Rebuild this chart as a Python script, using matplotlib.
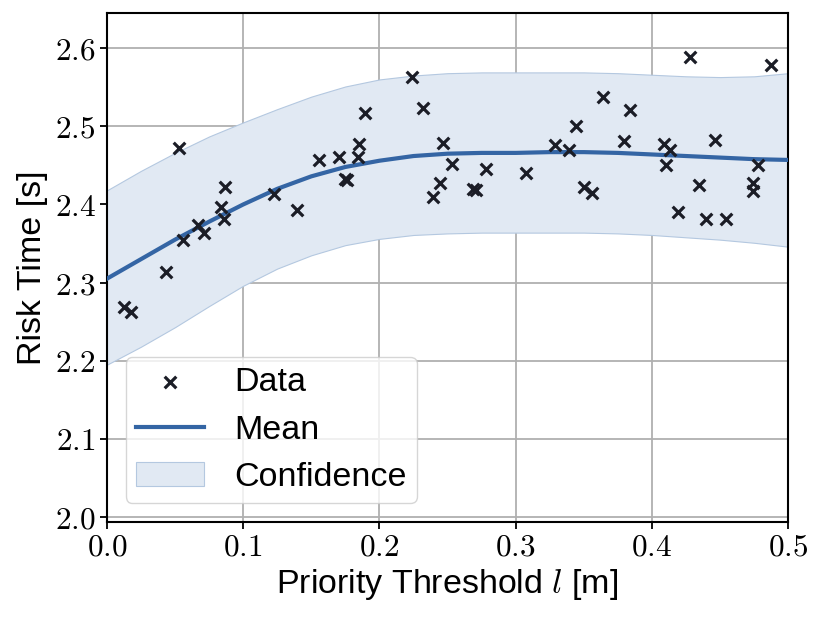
import numpy as np
import matplotlib
matplotlib.use("Agg")
import matplotlib.pyplot as plt

plt.rcParams["mathtext.fontset"] = "cm"
plt.rcParams["font.family"] = ["Liberation Sans", "DejaVu Sans"]

# observed samples
data_x = [0.0129, 0.0178, 0.0434, 0.0526, 0.0556, 0.0670, 0.0714, 0.0836, 0.0860, 0.0868,
          0.1226, 0.1396, 0.1555, 0.1706, 0.1750, 0.1760, 0.1840, 0.1847, 0.1896, 0.2242,
          0.2317, 0.2395, 0.2444, 0.2468, 0.2529, 0.2685, 0.2705, 0.2780, 0.3077, 0.3290,
          0.3390, 0.3443, 0.3504, 0.3558, 0.3638, 0.3796, 0.3838, 0.4089, 0.4103, 0.4130,
          0.4191, 0.4279, 0.4344, 0.4393, 0.4459, 0.4540, 0.4739, 0.4739, 0.4776, 0.4876]
data_y = [2.269, 2.263, 2.314, 2.472, 2.354, 2.374, 2.364, 2.397, 2.382, 2.422,
          2.413, 2.393, 2.457, 2.461, 2.433, 2.431, 2.461, 2.478, 2.517, 2.563,
          2.524, 2.409, 2.428, 2.479, 2.452, 2.420, 2.418, 2.445, 2.440, 2.476,
          2.470, 2.500, 2.423, 2.415, 2.538, 2.481, 2.521, 2.477, 2.450, 2.470,
          2.390, 2.589, 2.425, 2.381, 2.483, 2.381, 2.427, 2.417, 2.451, 2.579]

# predicted mean and confidence band
grid_x = [0.0, 0.025, 0.05, 0.075, 0.1, 0.125, 0.15, 0.175, 0.2, 0.225, 0.25,
          0.275, 0.3, 0.325, 0.35, 0.375, 0.4, 0.425, 0.45, 0.475, 0.5]
mean_y = [2.305, 2.330, 2.355, 2.378, 2.400, 2.420, 2.436, 2.448, 2.456, 2.462, 2.465,
          2.466, 2.466, 2.467, 2.467, 2.466, 2.464, 2.462, 2.460, 2.458, 2.457]
upper_y = [2.418, 2.443, 2.466, 2.487, 2.505, 2.522, 2.538, 2.551, 2.560, 2.565, 2.568,
           2.569, 2.569, 2.569, 2.569, 2.568, 2.566, 2.564, 2.563, 2.564, 2.568]
lower_y = [2.195, 2.218, 2.243, 2.270, 2.296, 2.318, 2.335, 2.348, 2.356, 2.361, 2.363,
           2.364, 2.364, 2.364, 2.364, 2.363, 2.361, 2.358, 2.355, 2.351, 2.346]

xticks = [0.0, 0.1, 0.2, 0.3, 0.4, 0.5]
yticks = [2.0, 2.1, 2.2, 2.3, 2.4, 2.5, 2.6]

fig = plt.figure(figsize=(8.22, 6.19), dpi=100)
ax = fig.add_axes([0.130, 0.157, 0.829, 0.822])

line_col = "#3465a4"
ax.fill_between(grid_x, lower_y, upper_y, facecolor="#e1e9f3", edgecolor="#b4c8e0",
                linewidth=0.8, label="Confidence", zorder=2)
ax.plot(grid_x, mean_y, color=line_col, lw=3, label="Mean", zorder=3)
ax.scatter(data_x, data_y, marker="x", s=70, linewidths=2.3, color="#1b1d26",
           label="Data", zorder=4)

ax.set_xlim(0.0, 0.5)
ax.set_ylim(1.994, 2.645)
ax.set_xticks(xticks)
ax.set_yticks(yticks)
ax.set_xticklabels([f"${t:.1f}$" for t in xticks], fontsize=22.5)
ax.set_yticklabels([f"${t:.1f}$" for t in yticks], fontsize=22.5)
ax.tick_params(direction="out", length=5, width=1.3, colors="black", pad=3)
ax.grid(True, color="#b0b0b0", lw=1.3, zorder=0)
ax.set_axisbelow(True)
for s in ax.spines.values():
    s.set_linewidth(1.5)
    s.set_color("black")

ax.set_xlabel("Priority Threshold $l$ [m]", fontsize=24.5, labelpad=3)
ax.set_ylabel("Risk Time [s]", fontsize=24.5, labelpad=5)

handles, labels = ax.get_legend_handles_labels()
order = [labels.index("Data"), labels.index("Mean"), labels.index("Confidence")]
ax.legend([handles[i] for i in order], [labels[i] for i in order], loc="lower left",
          fontsize=24.5, framealpha=0.8, borderaxespad=0.55, handlelength=2.0,
          labelspacing=0.48, borderpad=0.3, handletextpad=0.9)

fig.savefig("out.png", dpi=100)
